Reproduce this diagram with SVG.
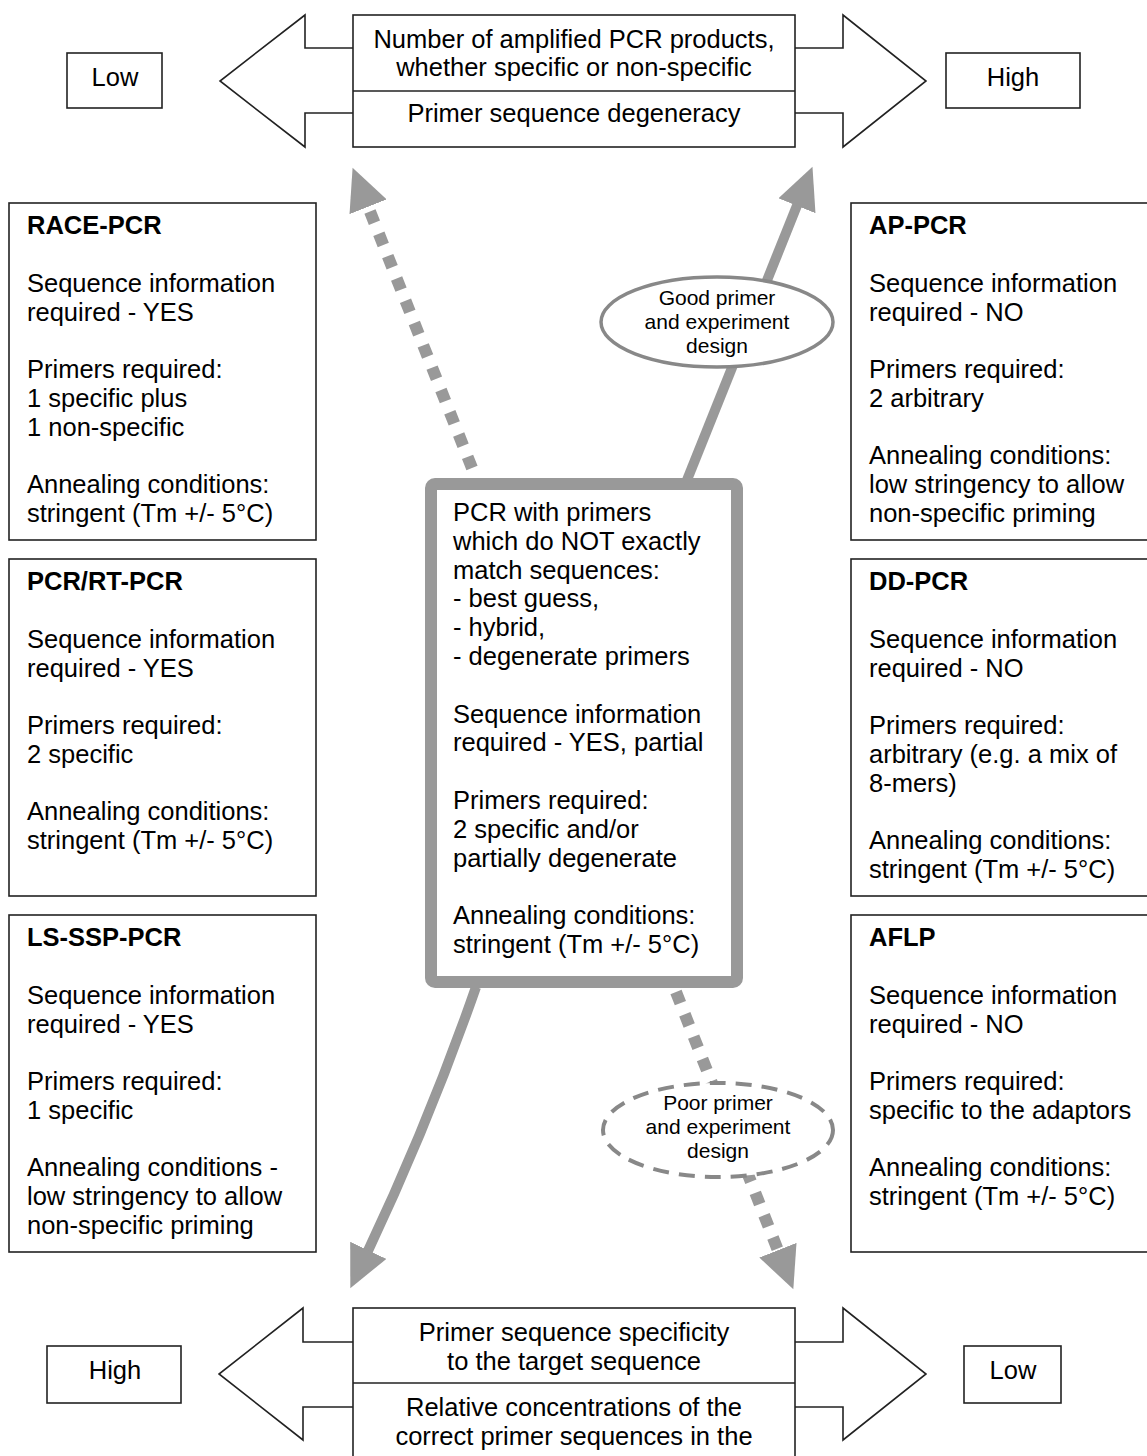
<svg xmlns="http://www.w3.org/2000/svg" width="1147" height="1456" viewBox="0 0 1147 1456">
<style>
  text { font-family: "Liberation Sans", Arial, sans-serif; fill: #000; }
  .t { font-size: 25.5px; }
  .b { font-size: 25.5px; font-weight: bold; }
  .c { text-anchor: middle; }
  .e { font-size: 21px; text-anchor: middle; }
  .box { fill: #fff; stroke: #222; stroke-width: 1.6; }
  .harrow { fill: #fff; stroke: #222; stroke-width: 1.6; stroke-linejoin: miter; }
  .solid { fill: none; stroke: #999; stroke-width: 10; }
  .dot { fill: none; stroke: #999; stroke-width: 12; stroke-dasharray: 12 12; }
</style>
<defs>
  <marker id="head" markerUnits="userSpaceOnUse" markerWidth="44" markerHeight="40" viewBox="0 0 44 40" refX="3" refY="20" orient="auto">
    <path d="M0,0 L42,20 L0,40 z" fill="#999"/>
  </marker>
</defs>

<g id="connectors">
  <line class="dot" x1="472" y1="468" x2="367" y2="204" marker-end="url(#head)"/>
  <line class="solid" x1="687" y1="480" x2="798" y2="203" marker-end="url(#head)"/>
  <path class="solid" d="M476,987 Q429,1122 367,1253" marker-end="url(#head)"/>
  <line class="dot" x1="676" y1="992" x2="779" y2="1253" marker-end="url(#head)"/>
</g>

<g id="top-scale">
  <path class="harrow" d="M353,48 L305,48 L305,15 L220,81 L305,147 L305,113 L353,113"/>
  <path class="harrow" d="M795,48 L843,48 L843,15 L926,81 L843,147 L843,113 L795,113"/>
  <rect class="box" x="353" y="15" width="442" height="132"/>
  <line x1="353" y1="91" x2="795" y2="91" stroke="#222" stroke-width="1.6"/>
  <text class="t c" x="574" y="48">Number of amplified PCR products,</text>
  <text class="t c" x="574" y="76">whether specific or non-specific</text>
  <text class="t c" x="574" y="122">Primer sequence degeneracy</text>
</g>
<g id="top-low">
  <rect class="box" x="67" y="53" width="95" height="55"/>
  <text class="t c" x="115" y="86">Low</text>
</g>
<g id="top-high">
  <rect class="box" x="946" y="53" width="134" height="55"/>
  <text class="t c" x="1013" y="86">High</text>
</g>

<g id="bottom-scale">
  <path class="harrow" d="M353,1342 L303,1342 L303,1308 L219,1374 L303,1440 L303,1407 L353,1407"/>
  <path class="harrow" d="M795,1342 L843,1342 L843,1308 L926,1374 L843,1440 L843,1407 L795,1407"/>
  <rect class="box" x="353" y="1308" width="442" height="160"/>
  <line x1="353" y1="1383" x2="795" y2="1383" stroke="#222" stroke-width="1.6"/>
  <text class="t c" x="574" y="1341">Primer sequence specificity</text>
  <text class="t c" x="574" y="1370">to the target sequence</text>
  <text class="t c" x="574" y="1416">Relative concentrations of the</text>
  <text class="t c" x="574" y="1445">correct primer sequences in the</text>
</g>
<g id="bottom-high">
  <rect class="box" x="47" y="1346" width="134" height="57"/>
  <text class="t c" x="115" y="1379">High</text>
</g>
<g id="bottom-low">
  <rect class="box" x="964" y="1346" width="97" height="57"/>
  <text class="t c" x="1013" y="1379">Low</text>
</g>

<g id="race-pcr">
  <rect class="box" x="9" y="203" width="307" height="337"/>
  <text class="b" x="27" y="234">RACE-PCR</text>
  <text class="t" x="27" y="292">Sequence information</text>
  <text class="t" x="27" y="321">required - YES</text>
  <text class="t" x="27" y="378">Primers required:</text>
  <text class="t" x="27" y="407">1 specific plus</text>
  <text class="t" x="27" y="436">1 non-specific</text>
  <text class="t" x="27" y="493">Annealing conditions:</text>
  <text class="t" x="27" y="522">stringent (Tm +/- 5°C)</text>
</g>
<g id="pcr-rt-pcr">
  <rect class="box" x="9" y="559" width="307" height="337"/>
  <text class="b" x="27" y="590">PCR/RT-PCR</text>
  <text class="t" x="27" y="648">Sequence information</text>
  <text class="t" x="27" y="677">required - YES</text>
  <text class="t" x="27" y="734">Primers required:</text>
  <text class="t" x="27" y="763">2 specific</text>
  <text class="t" x="27" y="820">Annealing conditions:</text>
  <text class="t" x="27" y="849">stringent (Tm +/- 5°C)</text>
</g>
<g id="ls-ssp-pcr">
  <rect class="box" x="9" y="915" width="307" height="337"/>
  <text class="b" x="27" y="946">LS-SSP-PCR</text>
  <text class="t" x="27" y="1004">Sequence information</text>
  <text class="t" x="27" y="1033">required - YES</text>
  <text class="t" x="27" y="1090">Primers required:</text>
  <text class="t" x="27" y="1119">1 specific</text>
  <text class="t" x="27" y="1176">Annealing conditions -</text>
  <text class="t" x="27" y="1205">low stringency to allow</text>
  <text class="t" x="27" y="1234">non-specific priming</text>
</g>

<g id="ap-pcr">
  <rect class="box" x="851" y="203" width="310" height="337"/>
  <text class="b" x="869" y="234">AP-PCR</text>
  <text class="t" x="869" y="292">Sequence information</text>
  <text class="t" x="869" y="321">required - NO</text>
  <text class="t" x="869" y="378">Primers required:</text>
  <text class="t" x="869" y="407">2 arbitrary</text>
  <text class="t" x="869" y="464">Annealing conditions:</text>
  <text class="t" x="869" y="493">low stringency to allow</text>
  <text class="t" x="869" y="522">non-specific priming</text>
</g>
<g id="dd-pcr">
  <rect class="box" x="851" y="559" width="310" height="337"/>
  <text class="b" x="869" y="590">DD-PCR</text>
  <text class="t" x="869" y="648">Sequence information</text>
  <text class="t" x="869" y="677">required - NO</text>
  <text class="t" x="869" y="734">Primers required:</text>
  <text class="t" x="869" y="763">arbitrary (e.g. a mix of</text>
  <text class="t" x="869" y="792">8-mers)</text>
  <text class="t" x="869" y="849">Annealing conditions:</text>
  <text class="t" x="869" y="878">stringent (Tm +/- 5°C)</text>
</g>
<g id="aflp">
  <rect class="box" x="851" y="915" width="310" height="337"/>
  <text class="b" x="869" y="946">AFLP</text>
  <text class="t" x="869" y="1004">Sequence information</text>
  <text class="t" x="869" y="1033">required - NO</text>
  <text class="t" x="869" y="1090">Primers required:</text>
  <text class="t" x="869" y="1119">specific to the adaptors</text>
  <text class="t" x="869" y="1176">Annealing conditions:</text>
  <text class="t" x="869" y="1205">stringent (Tm +/- 5°C)</text>
</g>

<g id="center">
  <rect x="431" y="484" width="306" height="498" rx="4" fill="#fff" stroke="#999" stroke-width="12"/>
  <text class="t" x="453" y="521">PCR with primers</text>
  <text class="t" x="453" y="550">which do NOT exactly</text>
  <text class="t" x="453" y="579">match sequences:</text>
  <text class="t" x="453" y="607">- best guess,</text>
  <text class="t" x="453" y="636">- hybrid,</text>
  <text class="t" x="453" y="665">- degenerate primers</text>
  <text class="t" x="453" y="723">Sequence information</text>
  <text class="t" x="453" y="751">required - YES, partial</text>
  <text class="t" x="453" y="809">Primers required:</text>
  <text class="t" x="453" y="838">2 specific and/or</text>
  <text class="t" x="453" y="867">partially degenerate</text>
  <text class="t" x="453" y="924">Annealing conditions:</text>
  <text class="t" x="453" y="953">stringent (Tm +/- 5°C)</text>
</g>

<g id="good-design">
  <ellipse cx="717" cy="322" rx="116" ry="45" fill="#fff" stroke="#888" stroke-width="3.5"/>
  <text class="e" x="717" y="305">Good primer</text>
  <text class="e" x="717" y="329">and experiment</text>
  <text class="e" x="717" y="353">design</text>
</g>
<g id="poor-design">
  <ellipse cx="718" cy="1130" rx="115" ry="47" fill="#fff" stroke="#888" stroke-width="4" stroke-dasharray="16 10"/>
  <text class="e" x="718" y="1110">Poor primer</text>
  <text class="e" x="718" y="1134">and experiment</text>
  <text class="e" x="718" y="1158">design</text>
</g>
</svg>
